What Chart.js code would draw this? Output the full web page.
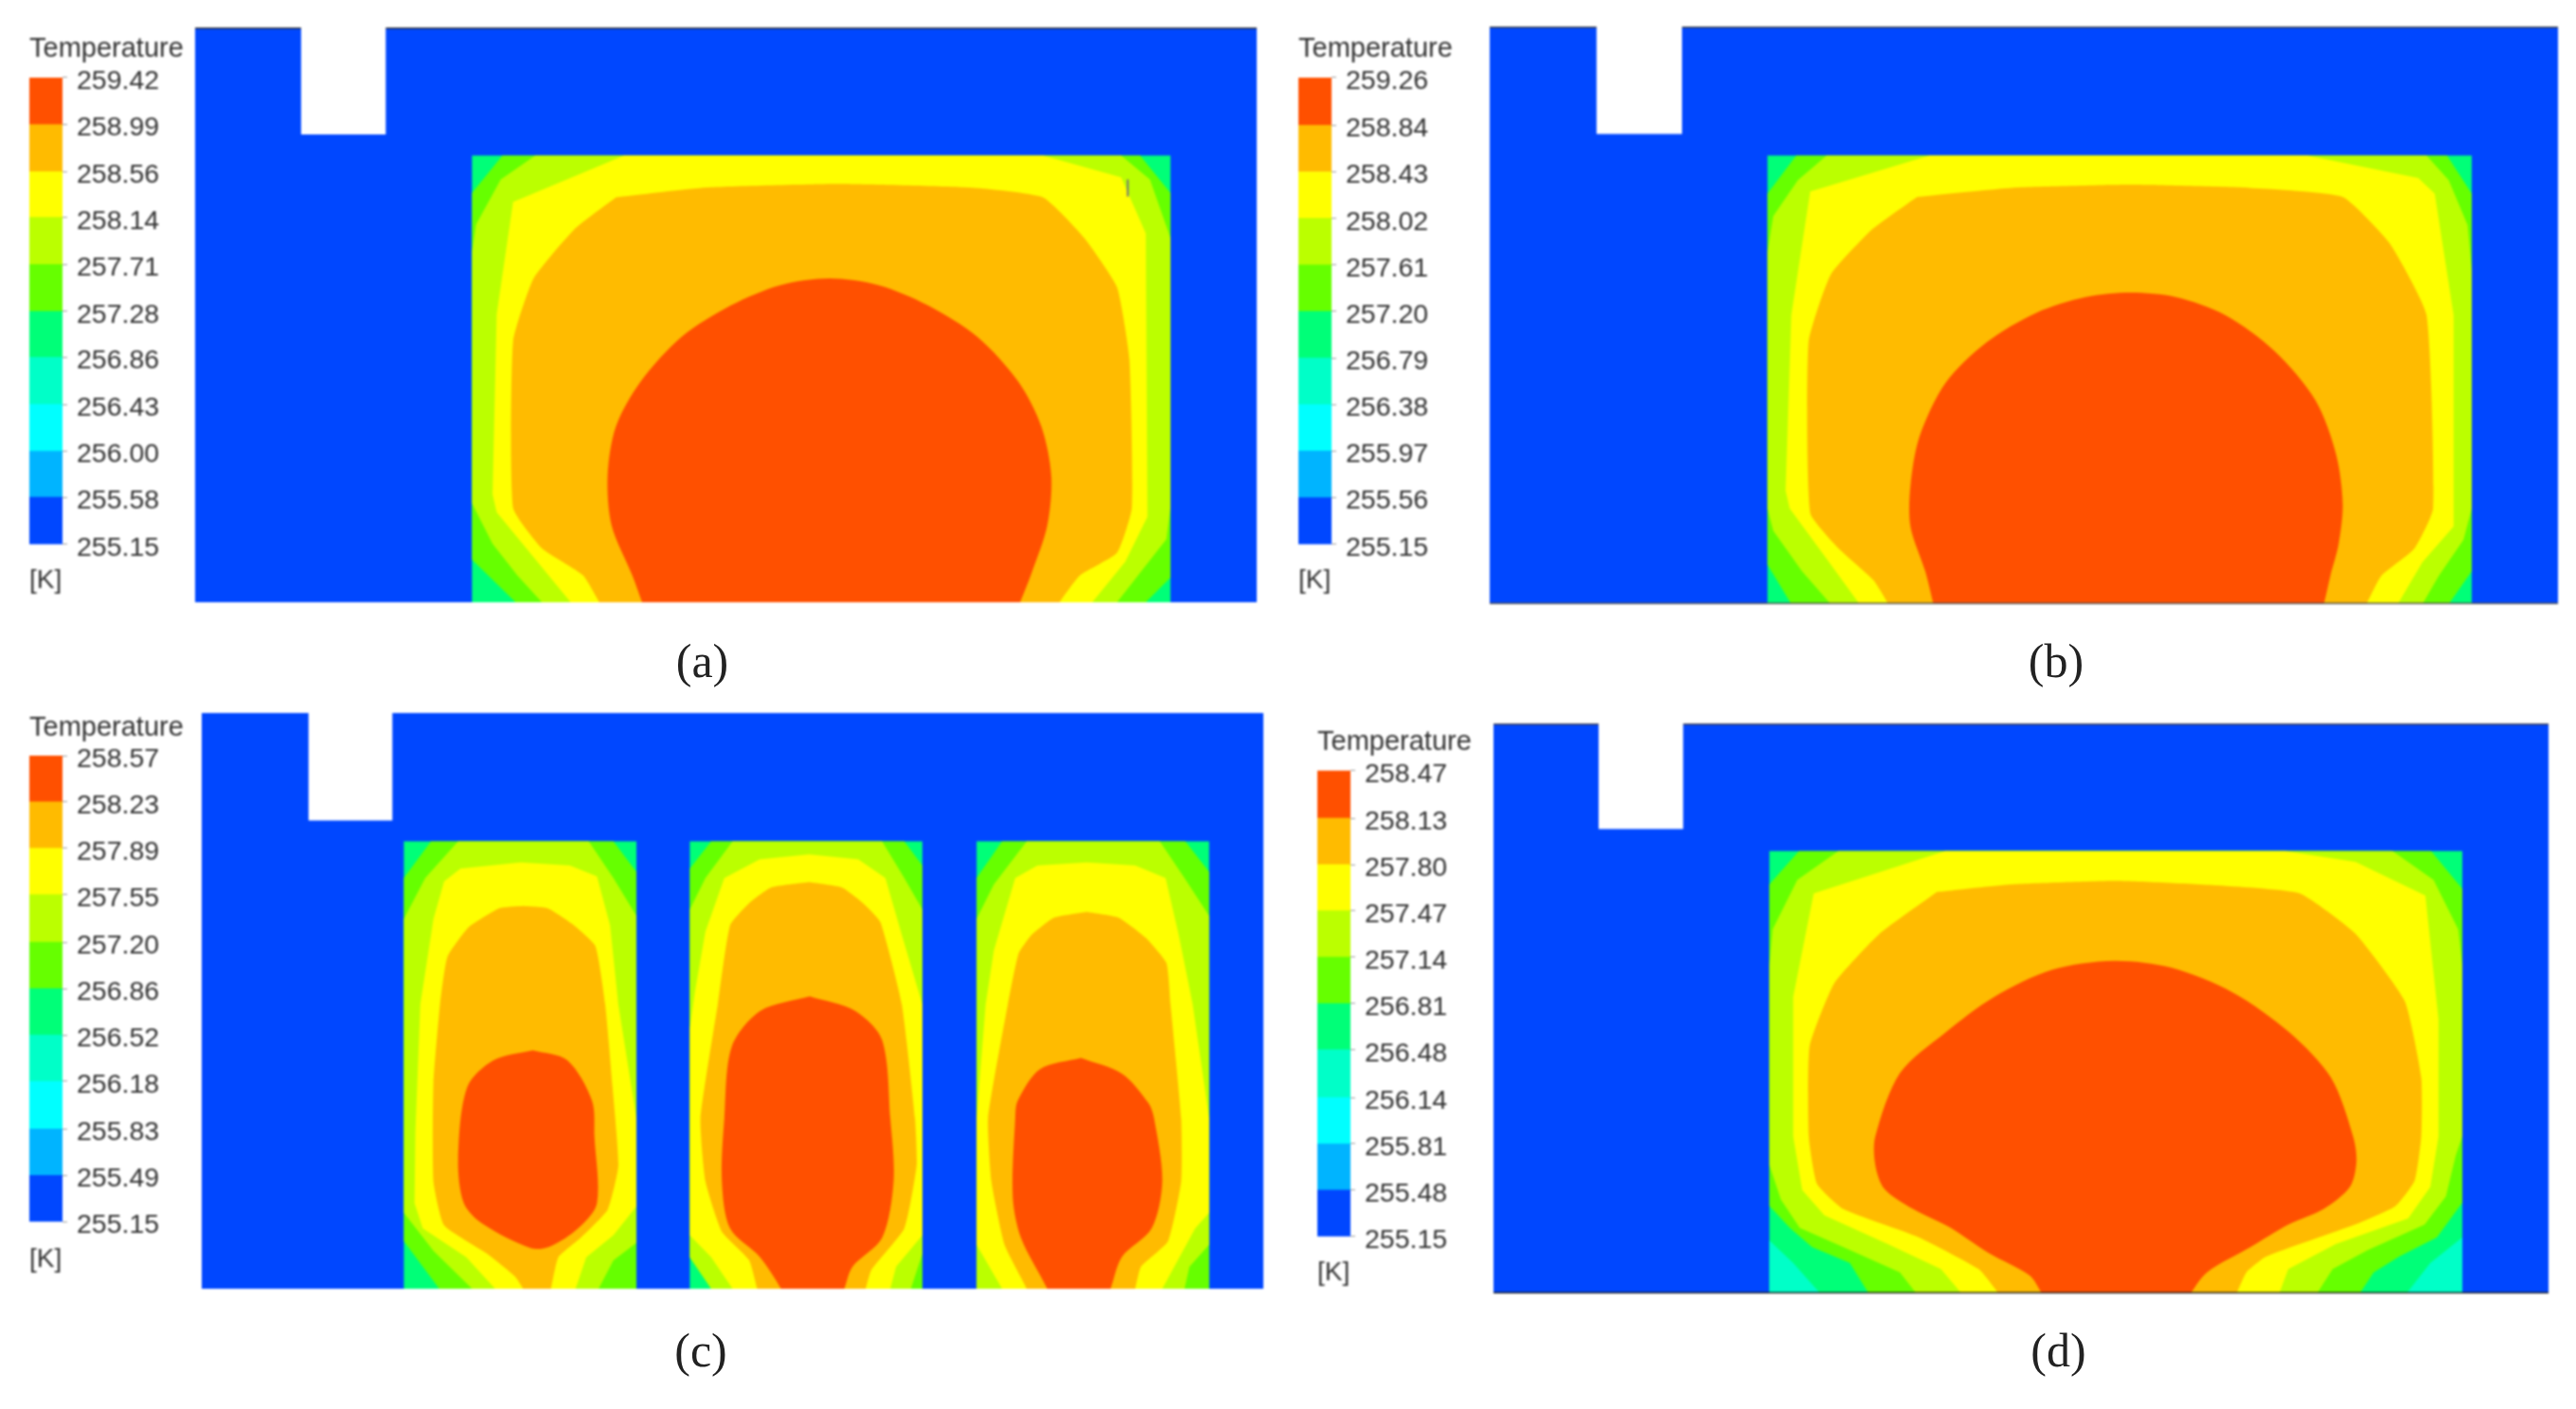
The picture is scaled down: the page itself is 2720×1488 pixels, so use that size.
<!DOCTYPE html>
<html><head><meta charset="utf-8">
<style>
html,body{margin:0;padding:0;background:#fff;width:2720px;height:1488px;overflow:hidden}
canvas{position:absolute;filter:blur(1px)}
.cap{position:absolute;font:50px "Liberation Serif",serif;color:#222;transform:translate(-50%,-50%);filter:blur(.6px)}
</style>
<script src="https://cdn.jsdelivr.net/npm/chart.js@4"></script>
</head><body>
<script>
// Colour band order: coolest to hottest
const bandColors=['#0047ff','#00b4ff','#00ffff','#00ffc8','#00ff78','#66ff00','#bbff00','#ffff00','#ffbb00','#ff5000'];
const captions=['(a)','(b)','(c)','(d)'];
const levelsA=[255.15,255.58,256.00,256.43,256.86,257.28,257.71,258.14,258.56,258.99,259.42];
const levelsB=[255.15,255.56,255.97,256.38,256.79,257.20,257.61,258.02,258.43,258.84,259.26];
const levelsC=[255.15,255.49,255.83,256.18,256.52,256.86,257.20,257.55,257.89,258.23,258.57];
const levelsD=[255.15,255.48,255.81,256.14,256.48,256.81,257.14,257.47,257.80,258.13,258.47];

// Contour outlines as [x, y] in each panel's domain units
const aInlet=[[367,62],[470,62],[470,300],[367,300]];
const aBox=[[575,347],[1425,347],[1425,1340],[575,1340]];
const aGreen=[[612,347],[1388,347],[1425,430],[1425,1285],[1395,1340],[628,1340],[575,1245],[575,430]];
const aYGreen=[[652,347],[1365,347],[1400,400],[1425,530],[1425,1130],[1420,1200],[1390,1270],[1360,1340],[660,1340],[630,1280],[600,1210],[575,1120],[575,560],[580,500],[610,400]];
const aYellow=[[760,347],[1270,347],[1365,395],[1395,520],[1397,1150],[1370,1250],[1330,1340],[695,1340],[650,1240],[605,1140],[600,1100],[605,700],[625,450]];
const aOrange=[[750,440],[860,418],[1020,410],[1180,418],[1270,440],[1320,530],[1360,640],[1375,800],[1378,1130],[1360,1230],[1315,1280],[1290,1340],[1278,1380],[742,1380],[730,1340],[710,1280],[660,1220],[625,1130],[625,760],[650,620],[700,510]];
const aRed=[[782,1340],[770,1280],[745,1170],[740,1060],[750,950],[780,850],[830,750],[890,680],[950,635],[1010,620],[1070,635],[1130,680],[1190,750],[1240,850],[1268,950],[1280,1060],[1275,1170],[1255,1280],[1242,1340],[1232,1380],[792,1380]];

const bInlet=[[375,58],[479,58],[479,297],[375,297]];
const bBox=[[583,345],[1440,345],[1440,1343],[583,1343]];
const bGreen=[[618,345],[1410,345],[1440,430],[1440,1270],[1412,1343],[612,1343],[583,1255],[583,430]];
const bYGreen=[[655,345],[1385,345],[1412,400],[1435,500],[1440,600],[1440,1130],[1430,1200],[1400,1280],[1380,1343],[660,1343],[625,1270],[590,1180],[583,1130],[583,560],[590,480],[620,400]];
const bYellow=[[780,345],[1240,345],[1375,395],[1395,430],[1418,700],[1418,1170],[1380,1250],[1350,1343],[695,1343],[650,1230],[610,1130],[605,1090],[612,700],[635,425]];
const bOrange=[[765,437],[880,417],[1025,410],[1170,417],[1283,437],[1340,540],[1385,700],[1393,1130],[1370,1220],[1330,1280],[1312,1343],[1302,1385],[740,1385],[730,1343],[712,1290],[670,1220],[635,1140],[633,760],[660,610],[710,510]];
const bRed=[[785,1343],[775,1270],[757,1170],[757,1080],[768,970],[800,850],[850,760],[910,695],[970,660],[1025,650],[1080,660],[1140,700],[1200,780],[1250,890],[1275,1010],[1283,1120],[1278,1210],[1268,1280],[1260,1343],[1252,1385],[793,1385]];

const cInlet=[[375,18],[477,18],[477,257],[375,257]];
const c1Box=[[491,303],[774,303],[774,1298],[491,1298]];
const c1Green=[[524,303],[746,303],[774,371],[774,1298],[534,1298],[491,1192],[491,385]];
const c1YGreen=[[557,303],[716,303],[746,385],[774,469],[774,1196],[746,1235],[728,1298],[574,1298],[527,1214],[491,1129],[491,476],[517,385]];
const c1Yellow=[[540,392],[560,364],[633,350],[693,357],[726,381],[742,490],[752,666],[774,919],[774,1115],[746,1179],[713,1228],[700,1298],[602,1298],[567,1228],[514,1164],[504,1108],[505,950],[511,666],[527,476]];
const c1Orange=[[636,447],[666,452],[696,487],[724,536],[736,666],[745,850],[752,1024],[739,1122],[706,1185],[679,1228],[670,1298],[665,1330],[641,1330],[636,1298],[626,1270],[593,1221],[540,1157],[527,1059],[527,840],[535,666],[544,560],[570,494],[607,452]];
const c1Red=[[648,768],[690,790],[720,880],[723,961],[726,1108],[703,1164],[670,1203],[646,1208],[587,1154],[564,1108],[557,1010],[568,850],[600,790]];
const c2Box=[[839,303],[1122,303],[1122,1298],[839,1298]];
const c2Green=[[865,303],[1100,303],[1122,357],[1122,1298],[865,1298],[839,1228],[839,364]];
const c2YGreen=[[891,303],[1073,303],[1100,385],[1122,455],[1122,1220],[1108,1298],[865,1298],[839,1228],[839,455],[858,385]];
const c2Yellow=[[881,385],[924,343],[984,332],[1044,343],[1077,385],[1097,511],[1122,666],[1122,1179],[1090,1249],[1083,1298],[891,1298],[865,1228],[839,1179],[839,720],[845,640],[858,504]];
const c2Orange=[[984,394],[1024,406],[1050,441],[1071,483],[1097,666],[1113,919],[1115,1024],[1100,1164],[1060,1256],[1053,1298],[1048,1330],[926,1330],[921,1298],[911,1234],[878,1171],[858,1059],[852,919],[873,666],[888,490],[911,441],[938,406]];
const c2Red=[[985,648],[1040,680],[1073,745],[1083,919],[1087,1059],[1073,1185],[1037,1249],[1027,1298],[1020,1330],[957,1330],[950,1298],[924,1227],[888,1164],[878,1059],[881,919],[890,760],[925,680]];
const c3Box=[[1188,303],[1471,303],[1471,1298],[1188,1298]];
const c3Green=[[1219,303],[1442,303],[1471,371],[1471,1298],[1188,1298],[1188,385]];
const c3YGreen=[[1249,303],[1411,303],[1441,385],[1471,469],[1471,1200],[1447,1249],[1441,1298],[1188,1298],[1188,476],[1209,399]];
const c3Yellow=[[1235,385],[1262,357],[1322,350],[1381,357],[1418,385],[1434,511],[1451,666],[1471,919],[1471,1129],[1454,1164],[1414,1298],[1219,1298],[1188,1200],[1188,919],[1199,666],[1209,546]];
const c3Orange=[[1322,460],[1361,473],[1394,518],[1419,574],[1424,666],[1437,919],[1437,1059],[1421,1192],[1388,1249],[1381,1298],[1375,1330],[1255,1330],[1249,1298],[1222,1200],[1206,1059],[1202,919],[1226,666],[1239,553],[1255,511],[1282,473]];
const c3Red=[[1315,785],[1365,820],[1397,885],[1404,919],[1414,1059],[1401,1164],[1365,1227],[1351,1298],[1344,1330],[1281,1330],[1274,1298],[1242,1185],[1232,1094],[1235,919],[1238,880],[1265,810]];

const dInlet=[[378,42],[481,42],[481,277],[378,277]];
const dBox=[[586,326],[1430,326],[1430,1310],[586,1310]];
const dCornerL=[[586,1192],[615,1242],[648,1310],[586,1310]];
const dCornerR=[[1430,1185],[1391,1242],[1362,1310],[1430,1310]];
const dGreen=[[622,326],[1392,326],[1430,410],[1430,1108],[1399,1185],[1353,1228],[1322,1263],[1305,1310],[707,1310],[684,1242],[638,1207],[611,1164],[586,1115],[586,400]];
const dYGreen=[[670,326],[1345,326],[1395,390],[1425,500],[1430,580],[1430,960],[1422,1003],[1410,1094],[1384,1157],[1314,1214],[1272,1256],[1253,1310],[765,1310],[745,1263],[676,1207],[623,1164],[600,1101],[586,1024],[586,580],[590,500],[620,390]];
const dYellow=[[800,326],[1215,326],[1300,350],[1385,425],[1401,700],[1401,961],[1391,1073],[1364,1143],[1276,1200],[1218,1256],[1207,1310],[820,1310],[795,1256],[730,1200],[653,1136],[626,1080],[615,961],[615,650],[640,420]];
const dOrange=[[790,417],[880,400],[1010,392],[1140,403],[1232,420],[1300,510],[1360,660],[1380,830],[1380,961],[1372,1059],[1349,1115],[1299,1157],[1191,1228],[1167,1263],[1155,1310],[1145,1345],[875,1345],[865,1310],[841,1256],[768,1185],[676,1122],[644,1066],[634,961],[635,760],[665,620],[720,510]];
const dRed=[[918,1310],[903,1270],[853,1220],[807,1164],[761,1122],[726,1077],[715,1024],[715,961],[745,820],[800,730],[860,650],[930,590],[1005,570],[1075,585],[1150,640],[1220,730],[1270,830],[1297,961],[1301,1017],[1293,1073],[1261,1122],[1218,1157],[1172,1207],[1119,1263],[1099,1310],[1085,1350],[932,1350]];

const SPRING=4,TEAL=3,GREEN=5,YG=6,YEL=7,ORA=8,RED=9;
const tensionOf={[SPRING]:0,[TEAL]:0,[GREEN]:0,[YG]:0,[YEL]:0,[ORA]:0.15,[RED]:0.3};
function layerSet(box,g,y,ye,o,r){return [[SPRING,box],[GREEN,g],[YG,y],[YEL,ye],[ORA,o],[RED,r]];}
const panels=[
 {rect:[206.4,29.4,1121,606.6],xr:[238,1530],yr:[62,1340],inlet:aInlet,
  layers:layerSet(aBox,aGreen,aYGreen,aYellow,aOrange,aRed),
  rules:[{c:'#333',w:2,p:[[238,63],[1530,63]]},{c:'#777',w:2,p:[[1373,400],[1373,438]]}],
  bar:{x:31,top:81.6,bottom:572.9,titleY:52,kY:612},levels:levelsA,cap:[741.5,697.5]},
 {rect:[1572.5,27.5,1127.5,609.9],xr:[245,1545],yr:[58,1343],inlet:bInlet,
  layers:layerSet(bBox,bGreen,bYGreen,bYellow,bOrange,bRed),
  rules:[{c:'#444',w:2,p:[[245,59],[1545,59]]},{c:'#555',w:2,p:[[245,1342],[1545,1342]]}],
  bar:{x:1371,top:81.6,bottom:572.9,titleY:52,kY:612},levels:levelsB,cap:[2171,697.5]},
 {rect:[212.5,752.5,1120.5,607.5],xr:[245,1537],yr:[18,1298],inlet:cInlet,
  layers:[...layerSet(c1Box,c1Green,c1YGreen,c1Yellow,c1Orange,c1Red),...layerSet(c2Box,c2Green,c2YGreen,c2Yellow,c2Orange,c2Red),...layerSet(c3Box,c3Green,c3YGreen,c3Yellow,c3Orange,c3Red)],
  rules:[],
  bar:{x:31,top:797.6,bottom:1288.4,titleY:769,kY:1329},levels:levelsC,cap:[740,1426]},
 {rect:[1576.8,764,1114.2,601.7],xr:[250,1535],yr:[42,1310],inlet:dInlet,
  layers:[[SPRING,dBox],[TEAL,dCornerL],[TEAL,dCornerR],[GREEN,dGreen],[YG,dYGreen],[YEL,dYellow],[ORA,dOrange],[RED,dRed]],
  rules:[{c:'#445',w:2,p:[[250,43],[1535,43]]},{c:'#222',w:2,p:[[250,1309],[1535,1309]]}],
  bar:{x:1391,top:813.3,bottom:1304,titleY:784,kY:1343},levels:levelsD,cap:[2173.5,1426]}
];
const toXY=p=>p.map(([x,y])=>({x,y}));
const closed=p=>toXY([...p,p[0]]);
function addCanvas(l,t,w,h){
  const c=document.createElement('canvas');
  c.width=w;c.height=h;c.style.cssText=`left:${l}px;top:${t}px;width:${w}px;height:${h}px`;
  document.body.appendChild(c);return c;
}
function polygon(color,pts,tension){
  return {type:'scatter',data:closed(pts),showLine:true,fill:'shape',backgroundColor:color,borderWidth:0,pointRadius:0,tension};
}
panels.forEach((P,i)=>{
  const [l,t,w,h]=P.rect;
  const back=[];
  const [x0,x1]=P.xr,[y0,y1]=P.yr;
  back.push(polygon(bandColors[0],[[x0,y0],[x1,y0],[x1,y1],[x0,y1]],0));
  P.layers.forEach(([c,pts])=>back.push(polygon(bandColors[c],pts,tensionOf[c])));
  P.rules.forEach(r=>back.push({type:'scatter',data:toXY(r.p),showLine:true,fill:false,borderColor:r.c,borderWidth:r.w,pointRadius:0}));
  back.push(polygon('#ffffff',P.inlet,0));
  new Chart(addCanvas(l,t,Math.round(w),Math.round(h)),{
    type:'scatter',
    data:{datasets:back.reverse()},
    options:{responsive:false,animation:false,devicePixelRatio:1,
      layout:{padding:0},
      plugins:{legend:{display:false},tooltip:{enabled:false},title:{display:false}},
      scales:{x:{type:'linear',display:false,min:x0,max:x1},y:{type:'linear',display:false,min:y0,max:y1,reverse:true}}}
  });
  // colour bar
  const B=P.bar,lv=P.levels,W=200,barW=35;
  const lh=29*1.2;
  const top=B.titleY-lh/2, pb=B.top-(top+lh);
  const botPad=B.kY-B.bottom-lh/2;
  const H=Math.round(B.bottom-top+botPad+lh+2);
  new Chart(addCanvas(B.x,top,W,H),{
    type:'bar',
    data:{labels:['T'],datasets:lv.slice(0,-1).map((v,k)=>({data:[[v,lv[k+1]]],backgroundColor:bandColors[k],barPercentage:1,categoryPercentage:1,borderWidth:0}))},
    options:{responsive:false,animation:false,devicePixelRatio:1,
      layout:{padding:{bottom:2}},
      plugins:{legend:{display:false},tooltip:{enabled:false},
        title:{display:true,text:'Temperature',align:'start',color:'#333',font:{family:'"Liberation Sans",Arial,sans-serif',size:29,weight:'normal'},padding:{top:0,bottom:pb}}},
      scales:{
        x:{stacked:true,ticks:{display:false},grid:{display:false},border:{display:false},
           title:{display:true,text:'[K]',align:'start',color:'#333',font:{family:'"Liberation Sans",Arial,sans-serif',size:28},padding:{top:botPad-8,bottom:0}}},
        y:{position:'right',min:lv[0],max:lv[lv.length-1],
           afterBuildTicks:s=>{s.ticks=lv.map(value=>({value}));},
           afterFit:s=>{s.width=W-barW;},
           border:{display:false},
           grid:{drawOnChartArea:false,drawTicks:true,tickLength:5,color:'#999'},
           ticks:{autoSkip:false,padding:10,labelOffset:4,color:'#333',font:{family:'"Liberation Sans",Arial,sans-serif',size:28.5},callback:v=>Number(v).toFixed(2)}}
      }}
  });
  const d=document.createElement('div');d.className='cap';d.textContent=captions[i];
  d.style.left=P.cap[0]+'px';d.style.top=P.cap[1]+'px';document.body.appendChild(d);
});
</script>
</body></html>
